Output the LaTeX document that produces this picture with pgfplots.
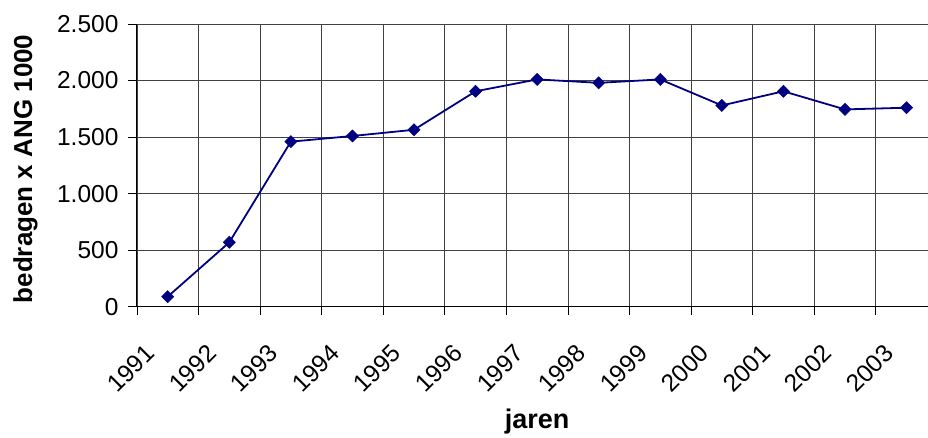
\documentclass[border=0pt]{standalone}
\usepackage{fontspec}
\setmainfont{Liberation Sans}
\usepackage{pgfplots}
\pgfplotsset{compat=1.18}
\definecolor{navyline}{RGB}{0,0,128}
\begin{document}
\begin{tikzpicture}
\begin{axis}[
  scale only axis, width=791pt, height=283pt,
  xmin=-0.5, xmax=12.34, ymin=0, ymax=2500,
  axis x line*=bottom, axis y line*=left,
  axis line style={black, line width=1pt},
  xtick={0,1,2,3,4,5,6,7,8,9,10,11,12},
  xticklabels={1991,1992,1993,1994,1995,1996,1997,1998,1999,2000,2001,2002,2003},
  minor xtick={-0.5,0.5,1.5,2.5,3.5,4.5,5.5,6.5,7.5,8.5,9.5,10.5,11.5},
  xmajorgrids=false, xminorgrids=true, ymajorgrids=true,
  grid style={black!75, line width=0.8pt},
  minor grid style={black!75, line width=0.8pt},
  ytick={0,500,1000,1500,2000,2500},
  tick align=outside,
  major tick length=9pt, minor tick length=8pt,
  major x tick style={draw=none},
  minor x tick style={black, line width=0.8pt},
  major y tick style={black, line width=0.8pt},
  /pgf/number format/.cd, 1000 sep={.}, assume math mode=true,
  /pgfplots/.cd,
  tick label style={font=\fontsize{24.5}{28}\selectfont},
  yticklabel style={xshift=-6pt},
  xticklabel style={xshift=-15pt, yshift=-31pt, rotate=45, anchor=east},
  ylabel={\textbf{bedragen x ANG 1000}},
  ylabel style={font=\fontsize{26}{30}\selectfont, at={(axis description cs:-0.1327,0.4876)}, anchor=base},
  xlabel={\textbf{jaren}},
  xlabel style={font=\fontsize{27}{30}\selectfont, at={(axis cs:6,0)}, anchor=base, yshift=-122pt},
  clip=false,
]
\addplot[navyline, line width=1.8pt, mark=square*, mark size=4.3pt,
  mark options={rotate=45, fill=navyline, draw=navyline, line width=0.5pt}]
  coordinates {
  (0,90) (1,570) (2,1460) (3,1510) (4,1565) (5,1905) (6,2010)
  (7,1980) (8,2010) (9,1780) (10,1905) (11,1745) (12,1760)
  };
\coordinate (bl) at (axis description cs:0,0);
\coordinate (tr) at (axis description cs:1,1);
\end{axis}
\path ([shift={(-137pt,-127pt)}]bl) rectangle ([shift={(0pt,24pt)}]tr);
\end{tikzpicture}
\end{document}
